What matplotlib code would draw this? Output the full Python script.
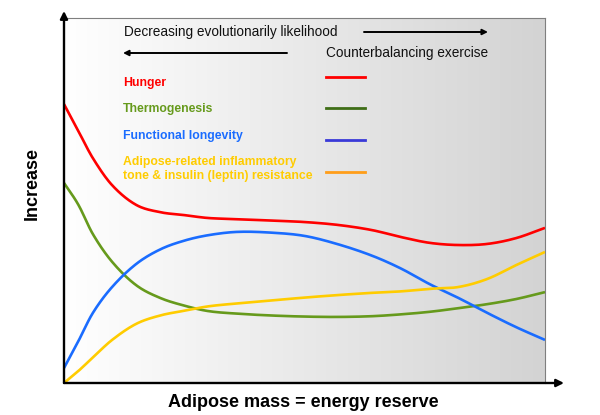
import numpy as np
import matplotlib
matplotlib.use("Agg")
import matplotlib.pyplot as plt
from matplotlib.colors import LinearSegmentedColormap

plt.rcParams['font.family'] = ['Liberation Sans', 'DejaVu Sans']

# ---- data (x: adipose mass 0-100, y: relative increase 0-100) ----
x = [0, 3, 6, 10, 15, 20, 25, 30, 36, 43, 50, 57, 64, 70, 76, 82, 88, 94, 100]
hunger = [76.4, 69.0, 61.6, 54.2, 48.8, 46.8, 46.0, 45.2, 44.9, 44.5, 44.1,
          43.3, 41.9, 40.0, 38.4, 37.8, 38.1, 39.7, 42.5]
thermogenesis = [54.8, 48.8, 40.8, 33.2, 26.8, 23.3, 21.2, 19.7, 19.0, 18.5,
                 18.2, 18.1, 18.3, 18.8, 19.5, 20.5, 21.6, 23.0, 24.9]
longevity = [4.1, 11.5, 19.2, 26.3, 32.6, 36.6, 39.0, 40.5, 41.4, 41.2, 40.3,
             38.0, 34.9, 31.4, 27.1, 23.3, 19.2, 15.3, 11.8]
inflammatory = [0.0, 3.3, 7.0, 11.8, 16.2, 18.5, 19.8, 21.0, 21.8, 22.6, 23.4,
                24.1, 24.7, 25.1, 25.8, 26.3, 28.5, 32.3, 35.9]

labels = ["Hunger", "Thermogenesis", "Functional longevity",
          "Adipose-related inflammatory\ntone & insulin (leptin) resistance"]
curve_colors = ["#ff0000", "#669a1c", "#1a6cff", "#ffcc00"]
key_colors = ["#ff0000", "#3f6e17", "#3a3ad8", "#ff9e1a"]

W, H = 600, 415
fig = plt.figure(figsize=(W / 100, H / 100), dpi=100)

def fx(px):
    return px / W

def fy(py):
    return 1 - py / H

L, R, T, B = 64, 545, 18, 383
ax = fig.add_axes([fx(L), fy(B), fx(R) - fx(L), fy(T) - fy(B)])

# background gradient
cmap = LinearSegmentedColormap.from_list("g", ["#ffffff", "#d3d3d3"])
grad = np.linspace(0, 1, 256).reshape(1, -1)
ax.imshow(grad, cmap=cmap, extent=[0, 100, 0, 100], aspect='auto', zorder=0)

xs = np.array(x, dtype=float)
xf = np.linspace(0, 100, 400)

def smooth(xv, yv):
    # smooth curve through the points via cubic Hermite (Catmull-Rom style)
    xv = np.asarray(xv, float); yv = np.asarray(yv, float)
    n = len(xv)
    m = np.zeros(n)
    for i in range(n):
        if i == 0:
            m[i] = (yv[1] - yv[0]) / (xv[1] - xv[0])
        elif i == n - 1:
            m[i] = (yv[-1] - yv[-2]) / (xv[-1] - xv[-2])
        else:
            m[i] = (yv[i + 1] - yv[i - 1]) / (xv[i + 1] - xv[i - 1])
    out = np.empty_like(xf)
    for k, t in enumerate(xf):
        i = min(np.searchsorted(xv, t, side='right') - 1, n - 2)
        h = xv[i + 1] - xv[i]
        s = (t - xv[i]) / h
        h00 = 2 * s**3 - 3 * s**2 + 1
        h10 = s**3 - 2 * s**2 + s
        h01 = -2 * s**3 + 3 * s**2
        h11 = s**3 - s**2
        out[k] = h00 * yv[i] + h10 * h * m[i] + h01 * yv[i + 1] + h11 * h * m[i + 1]
    return out

for series, c in zip([hunger, thermogenesis, longevity, inflammatory], curve_colors):
    ax.plot(xf, smooth(xs, series), color=c, lw=1.9, zorder=3, solid_capstyle='butt')

ax.set_xlim(0, 100)
ax.set_ylim(0, 100)
ax.set_xticks([])
ax.set_yticks([])
for s in ['top', 'right']:
    ax.spines[s].set_color('#7f7f7f')
    ax.spines[s].set_linewidth(0.8)
for s in ['left', 'bottom']:
    ax.spines[s].set_visible(False)

# axis arrows
arrow_kw = dict(arrowstyle='-|>', color='black', lw=1.7, mutation_scale=11,
                shrinkA=0, shrinkB=0)
fig.add_artist(matplotlib.patches.FancyArrowPatch((fx(L), fy(B)), (fx(L), fy(11)),
               transform=fig.transFigure, **arrow_kw))
fig.add_artist(matplotlib.patches.FancyArrowPatch((fx(L), fy(B)), (fx(564), fy(B)),
               transform=fig.transFigure, **arrow_kw))

# annotation arrows
small_kw = dict(arrowstyle='-|>', color='black', lw=1.4, mutation_scale=8,
                shrinkA=0, shrinkB=0)
fig.add_artist(matplotlib.patches.FancyArrowPatch((fx(364), fy(32)), (fx(488), fy(32)),
               transform=fig.transFigure, **small_kw))
fig.add_artist(matplotlib.patches.FancyArrowPatch((fx(287), fy(53)), (fx(123), fy(53)),
               transform=fig.transFigure, **small_kw))

fig.text(fx(124), fy(32), "Decreasing evolutionarily likelihood", fontsize=9.8,
         ha='left', va='center', color='#111111')
fig.text(fx(488), fy(53), "Counterbalancing exercise", fontsize=9.8,
         ha='right', va='center', color='#111111')

label_y = [83, 109, 136, 169]
key_y = [77, 108, 140, 172]
for lab, ly, ky, tc, kc in zip(labels, label_y, key_y, curve_colors, key_colors):
    fig.text(fx(123), fy(ly), lab, fontsize=8.8, fontweight='bold', color=tc,
             ha='left', va='center', linespacing=1.15)
    fig.add_artist(matplotlib.lines.Line2D([fx(326), fx(365)], [fy(ky), fy(ky)],
                   color=kc, lw=2.0, transform=fig.transFigure))

fig.text(fx(303), fy(402), "Adipose mass = energy reserve", fontsize=13,
         fontweight='bold', ha='center', va='center')
fig.text(fx(32), fy(184), "Increase", fontsize=13, fontweight='bold',
         ha='center', va='center', rotation=90)

fig.savefig("out.png", dpi=100)
